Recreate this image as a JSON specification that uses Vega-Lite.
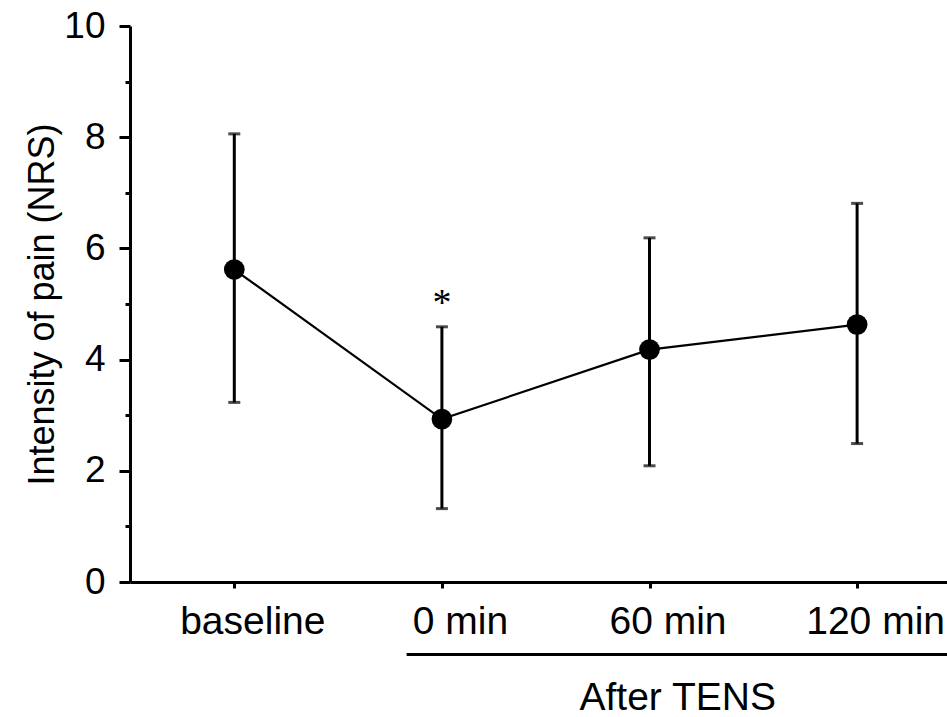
{
  "$schema": "https://vega.github.io/schema/vega-lite/v6.json",
  "autosize": "none",
  "width": 817,
  "height": 556,
  "padding": {"left": 130, "top": 26, "right": 0, "bottom": 135},
  "background": "white",
  "config": {
    "view": {"stroke": null},
    "font": "Liberation Sans",
    "axis": {"grid": false, "domainColor": "black", "tickColor": "black", "labelColor": "black", "titleColor": "black", "labelFont": "Liberation Sans", "titleFont": "Liberation Sans", "titleFontWeight": "normal"}
  },
  "datasets": {
    "pain": [
      {"time": "baseline", "x": 0, "mean": 5.62, "lo": 3.23, "hi": 8.06},
      {"time": "0 min", "x": 1, "mean": 2.93, "lo": 1.32, "hi": 4.59},
      {"time": "60 min", "x": 2, "mean": 4.18, "lo": 2.09, "hi": 6.19},
      {"time": "120 min", "x": 3, "mean": 4.63, "lo": 2.49, "hi": 6.81}
    ],
    "star": [{"x": 1, "y": 4.81, "label": "*"}],
    "group": [{"x": 0.83, "x2": 3.6, "y": -1.306, "tx": 2.136, "ty": -2.295, "label": "After TENS"}]
  },
  "resolve": {"axis": {"y": "independent"}},
  "layer": [
    {
      "data": {"name": "pain"},
      "mark": {"type": "line", "color": "black", "strokeWidth": 2.2},
      "encoding": {
        "x": {"field": "x", "type": "quantitative",
              "scale": {"domain": [-0.5024, 3.433], "nice": false, "zero": false},
              "axis": {"values": [0, 1, 2, 3], "title": null, "tickSize": 6, "tickWidth": 3, "domainWidth": 3,
                       "labelFontSize": 39, "labelPadding": 14, "labelOffset": 18,
                       "labelExpr": "['baseline','0 min','60 min','120 min'][datum.value]"}},
        "y": {"field": "mean", "type": "quantitative",
              "scale": {"domain": [0, 10], "nice": false, "zero": true},
              "axis": {"values": [0, 2, 4, 6, 8, 10], "orient": "left", "title": "Intensity of pain (NRS)",
                       "tickSize": 11, "tickWidth": 3, "domainWidth": 3, "labelFontSize": 37, "labelPadding": 14,
                       "titleFontSize": 36, "titlePadding": 2}}
      }
    },
    {
      "data": {"name": "pain"},
      "mark": {"type": "rule", "color": "black", "strokeWidth": 3},
      "encoding": {
        "x": {"field": "x", "type": "quantitative"},
        "y": {"field": "lo", "type": "quantitative",
              "axis": {"values": [1, 3, 5, 7, 9], "orient": "left", "title": null, "labels": false,
                       "domain": false, "tickSize": 5, "tickWidth": 3}},
        "y2": {"field": "hi"}
      }
    },
    {
      "data": {"name": "pain"},
      "mark": {"type": "tick", "orient": "horizontal", "color": "black", "size": 12, "thickness": 3},
      "encoding": {
        "x": {"field": "x", "type": "quantitative"},
        "y": {"field": "lo", "type": "quantitative", "axis": null}
      }
    },
    {
      "data": {"name": "pain"},
      "mark": {"type": "tick", "orient": "horizontal", "color": "black", "size": 12, "thickness": 3},
      "encoding": {
        "x": {"field": "x", "type": "quantitative"},
        "y": {"field": "hi", "type": "quantitative", "axis": null}
      }
    },
    {
      "data": {"name": "pain"},
      "mark": {"type": "point", "shape": "circle", "filled": true, "color": "black", "size": 430, "opacity": 1},
      "encoding": {
        "x": {"field": "x", "type": "quantitative"},
        "y": {"field": "mean", "type": "quantitative", "axis": null}
      }
    },
    {
      "data": {"name": "star"},
      "mark": {"type": "text", "font": "Liberation Serif", "fontSize": 38, "align": "center", "baseline": "alphabetic", "color": "black"},
      "encoding": {
        "x": {"field": "x", "type": "quantitative"},
        "y": {"field": "y", "type": "quantitative", "axis": null},
        "text": {"field": "label"}
      }
    },
    {
      "data": {"name": "group"},
      "mark": {"type": "rule", "color": "black", "strokeWidth": 3},
      "encoding": {
        "x": {"field": "x", "type": "quantitative"},
        "x2": {"field": "x2"},
        "y": {"field": "y", "type": "quantitative", "axis": null}
      }
    },
    {
      "data": {"name": "group"},
      "mark": {"type": "text", "fontSize": 39, "align": "center", "baseline": "alphabetic", "color": "black"},
      "encoding": {
        "x": {"field": "tx", "type": "quantitative"},
        "y": {"field": "ty", "type": "quantitative", "axis": null},
        "text": {"field": "label"}
      }
    }
  ]
}
